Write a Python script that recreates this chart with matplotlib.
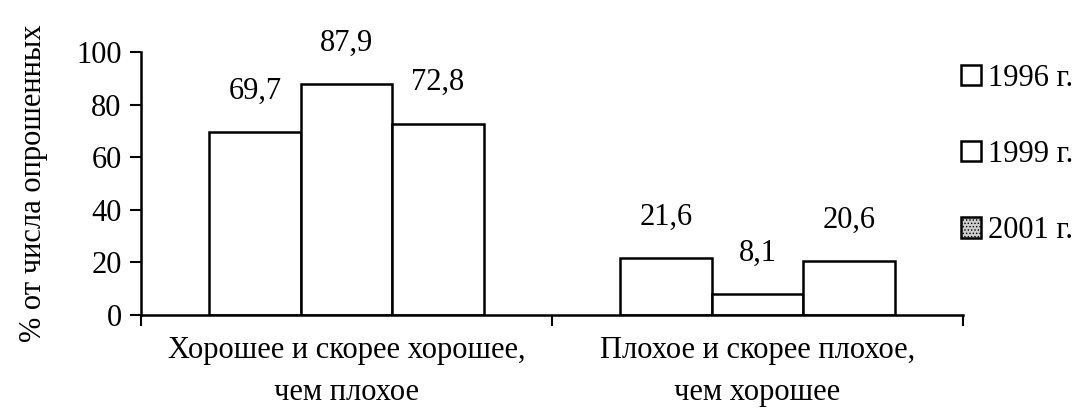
import numpy as np
import matplotlib
matplotlib.use("Agg")
import matplotlib.pyplot as plt
from matplotlib.patches import Patch

plt.rcParams["font.family"] = ["Liberation Serif", "DejaVu Serif"]
plt.rcParams["hatch.color"] = "#777777"
plt.rcParams["hatch.linewidth"] = 0.6

# ---- data ---------------------------------------------------------------
categories = ["Хорошее и скорее хорошее,\nчем плохое",
              "Плохое и скорее плохое,\nчем хорошее"]
years = ["1996 г.", "1999 г.", "2001 г."]
v1996 = [69.7, 21.6]
v1999 = [87.9, 8.1]
v2001 = [72.8, 20.6]
series = [v1996, v1999, v2001]

# ---- figure -------------------------------------------------------------
fig = plt.figure(figsize=(10.83, 4.17), dpi=100)
ax = fig.add_axes([0.1302, 0.2446, 0.759, 0.6307])

centers = np.arange(len(categories)) + 0.5
width = 0.2226
fs = 22

for i, vals in enumerate(series):
    xs = centers + (i - 1) * width
    ax.bar(xs, vals, width=width, color="white", edgecolor="black",
           linewidth=1.8, zorder=2)
    for x, v in zip(xs, vals):
        ax.annotate(f"{v:.1f}".replace(".", ","), (x, v),
                    xytext=(0, 24), textcoords="offset points",
                    ha="center", va="baseline", fontsize=fs)

ax.set_xlim(0, 2)
ax.set_ylim(0, 100)
ax.set_yticks(np.arange(0, 101, 20))
ax.set_xticks([0, 1, 2])
ax.set_xticklabels([])
ax.set_xticks(centers, minor=True)
ax.set_xticklabels(categories, minor=True, fontsize=fs, linespacing=1.6)
ax.tick_params(axis="x", which="minor", length=0, pad=15)
ax.tick_params(axis="x", which="major", length=8, width=1.5, direction="out")
ax.tick_params(axis="y", length=8, width=1.5, direction="out", labelsize=fs, pad=6)

for s in ["top", "right"]:
    ax.spines[s].set_visible(False)
for s in ["left", "bottom"]:
    ax.spines[s].set_linewidth(1.8)

ax.set_ylabel("% от числа опрошенных", fontsize=fs, labelpad=20)

handles = [
    Patch(facecolor="white", edgecolor="black", linewidth=1.8),
    Patch(facecolor="white", edgecolor="black", linewidth=1.8),
    Patch(facecolor="#cccccc", edgecolor="black", linewidth=1.8, hatch="....."),
]
fig.legend(handles, years, loc="upper left", bbox_to_anchor=(0.876, 0.877),
           frameon=False, fontsize=fs, handlelength=0.65, handleheight=0.65,
           handletextpad=0.25, labelspacing=1.55, borderaxespad=0)

fig.savefig("out.png", dpi=100)
